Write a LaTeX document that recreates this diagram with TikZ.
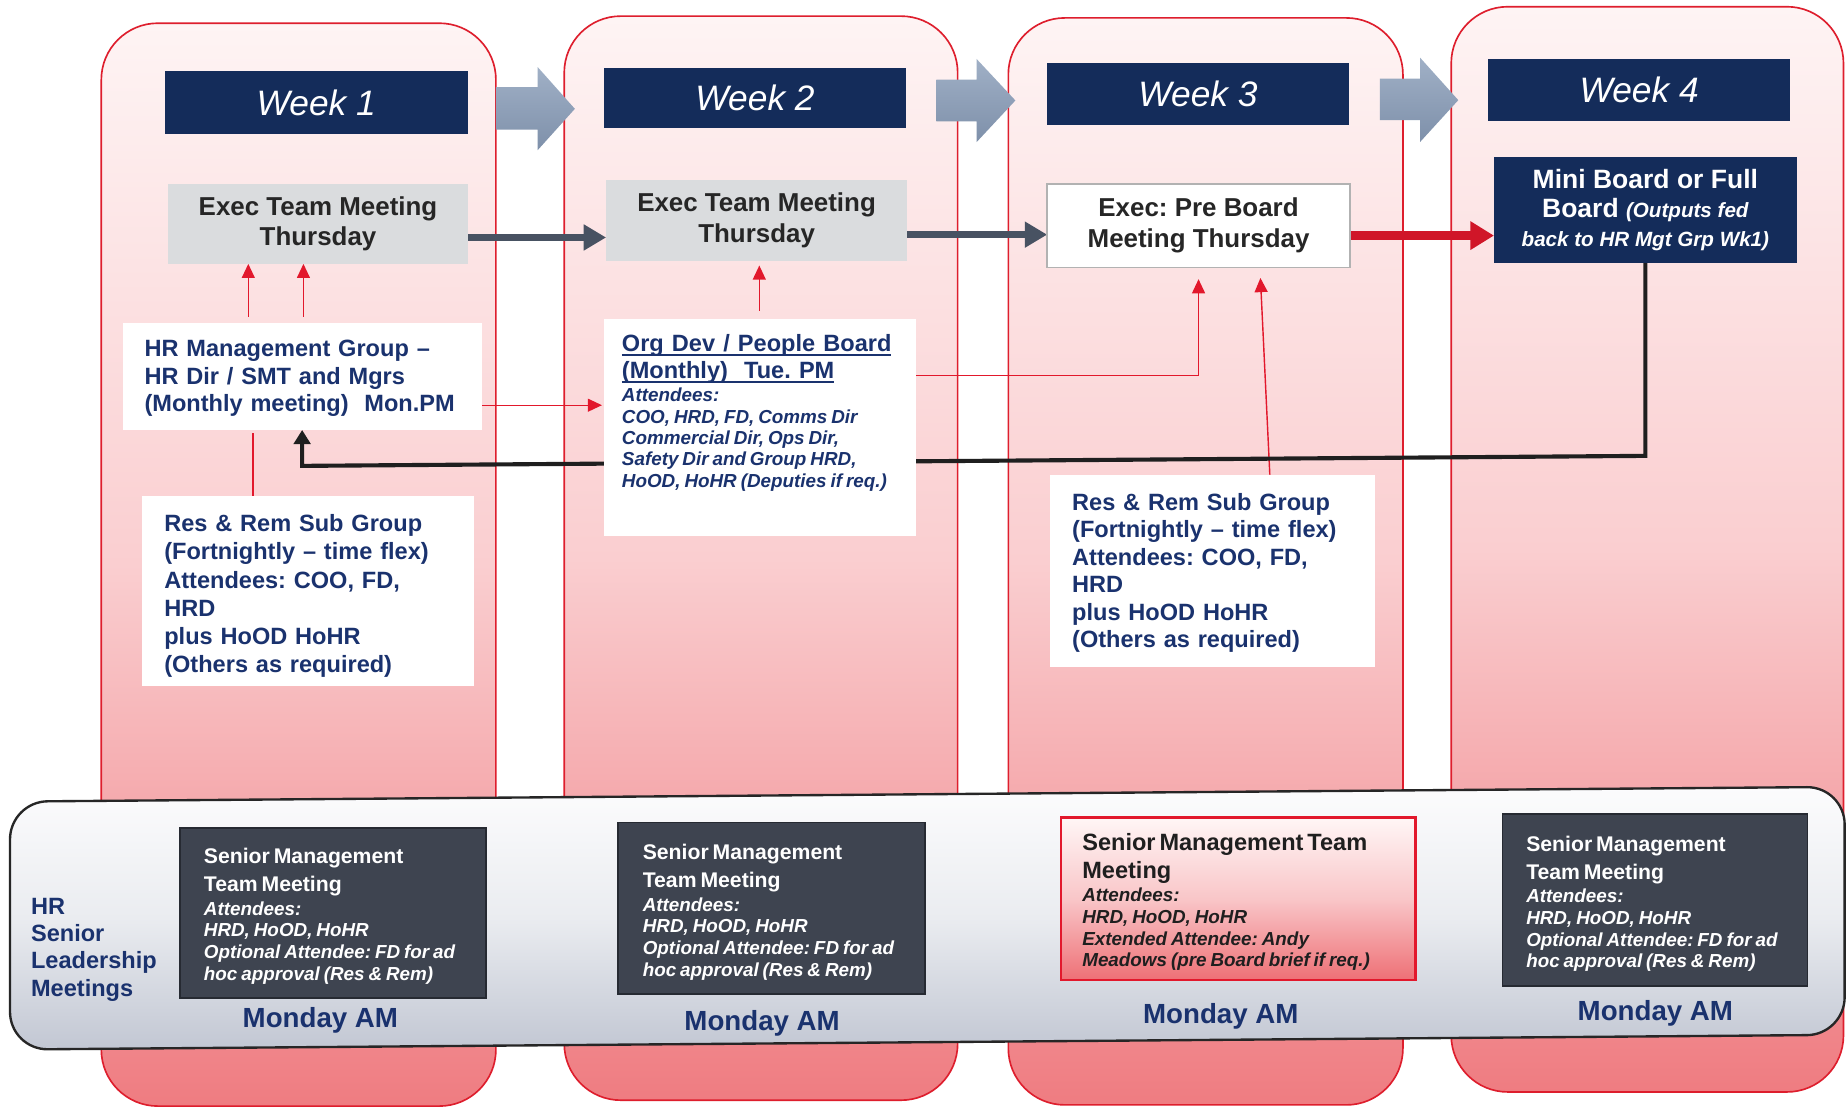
\documentclass[tikz,border=0pt]{standalone}
\usepackage{fontspec}
\setmainfont{Liberation Sans}
\usetikzlibrary{arrows.meta}
\definecolor{hdrblue}{RGB}{20,44,90}
\definecolor{txtblue}{RGB}{26,50,110}
\definecolor{arrtop}{RGB}{160,176,198}
\definecolor{arrbot}{RGB}{126,144,170}
\definecolor{darkconn}{RGB}{72,82,98}
\definecolor{redline}{RGB}{226,24,44}
\definecolor{boardred}{RGB}{208,22,40}
\definecolor{colborder}{RGB}{222,30,45}
\definecolor{coltop}{RGB}{254,244,244}
\definecolor{colmid}{RGB}{250,206,208}
\definecolor{colbot}{RGB}{239,124,129}
\definecolor{bandtop}{RGB}{252,252,253}
\definecolor{bandmid}{RGB}{234,236,240}
\definecolor{bandbot}{RGB}{194,199,211}
\definecolor{execgrey}{RGB}{218,220,222}
\definecolor{smtfill}{RGB}{62,68,80}
\definecolor{smtborder}{RGB}{38,42,50}
\definecolor{sthreetop}{RGB}{255,246,246}
\definecolor{sthreemid}{RGB}{249,198,200}
\definecolor{sthreebot}{RGB}{238,112,118}
\pgfdeclarelayer{bg}
\pgfdeclarelayer{lines}
\pgfsetlayers{bg,lines,main}
\newsavebox{\myulbox}
\newcommand{\myul}[1]{\leavevmode\sbox{\myulbox}{#1}\rlap{\rule[-3.8pt]{\wd\myulbox}{1.6pt}}\usebox{\myulbox}}
\frenchspacing
\begin{document}
\frenchspacing
\begin{tikzpicture}[x=1pt,y=-1pt,
  sz/.style 2 args={minimum width=#1pt, minimum height=#2pt, inner sep=0pt, outer sep=0pt},
  colshape/.style={draw=colborder, line width=1.4pt, top color=coltop, bottom color=colbot, middle color=colmid, rounded corners=48pt},
  bandshape/.style={draw=black!85, line width=2pt, top color=bandtop, bottom color=bandbot, middle color=bandmid, rounded corners=32pt},
  bigarrow/.style={top color=arrtop, bottom color=arrbot},
  hdr/.style={fill=hdrblue, text=white, font=\fontsize{30}{36}\selectfont\itshape},
  execbox/.style={fill=execgrey, text=black!85, align=center, font=\fontsize{22}{26}\selectfont\bfseries},
  boardbox/.style={fill=hdrblue, text=white, align=center, font=\fontsize{22.5}{24.5}\selectfont\bfseries},
  whitebox/.style={fill=white},
  smtbox/.style={fill=smtfill, draw=smtborder, line width=1.5pt},
  txt/.style={anchor=base west, inner sep=0pt, text width=330pt, align=left},
  bluetxt/.style={txt, text=txtblue},
  smttxt/.style={txt, text=white},
  redarr/.style={draw=redline, line width=1.2pt, -{Triangle[length=12pt,width=11pt]}},
  redln/.style={draw=redline, line width=1.2pt},
  darkarr/.style={draw=darkconn, line width=5.5pt, -{Triangle[length=19pt,width=21pt]}},
  boardarr/.style={draw=boardred, line width=7pt, -{Triangle[length=20pt,width=23pt]}},
  fbarr/.style={draw=black!88, line width=3.5pt, -{Triangle[length=12pt,width=14pt]}},
  monday/.style={anchor=base, inner sep=0pt, text=txtblue, font=\fontsize{23.5}{28}\selectfont\bfseries}
]
\useasboundingbox (0,0) rectangle (1568,940);
\begin{pgfonlayer}{bg}
  \fill[white] (0,0) rectangle (1568,940);
  \path[colshape] (86,19.7) rectangle (421,939);
  \path[colshape] (479,13.7) rectangle (813,934);
  \path[colshape] (856,15.2) rectangle (1191,938);
  \path[colshape] (1232,5.7) rectangle (1565,927);
  \path[bandshape] (8.5,680.5) -- (1566,668) -- (1566,878.5) -- (8.5,891) -- cycle;
\end{pgfonlayer}

% big grey arrows between the weeks
\path[bigarrow] (421,74) -- (456.5,74) -- (456.5,57) -- (488,92.4) -- (456.5,127.4) -- (456.5,110) -- (421,110) -- cycle;
\path[bigarrow] (795,67.5) -- (829,67.5) -- (829,50) -- (862,85.3) -- (829,120.7) -- (829,103) -- (795,103) -- cycle;
\path[bigarrow] (1171.5,66.7) -- (1205.6,66.7) -- (1205.6,49) -- (1238,85) -- (1205.6,120.5) -- (1205.6,102) -- (1171.5,102) -- cycle;

% week headers
\node[hdr, sz={257}{53}] (h1) at (268.5,87) {Week 1};
\node[hdr, sz={256}{51.5}] (h2) at (641,83.3) {Week 2};
\node[hdr, sz={256}{53}] (h3) at (1017,80) {Week 3};
\node[hdr, sz={256.5}{53}] (h4) at (1391.5,76.5) {Week 4};

% exec row
\node[execbox, sz={255}{68}] (e1) at (270,190) {Exec Team Meeting\\Thursday};
\node[execbox, sz={255.5}{68.4}] (e2) at (642.3,187.2) {Exec Team Meeting\\Thursday};
\node[execbox, fill=white, draw=black!30, line width=1.5pt, sz={257}{71}] (e3) at (1017.5,191.5) {Exec: Pre Board\\Meeting Thursday};
\node[boardbox, sz={257}{90}] (mb) at (1396.8,178.3) {Mini Board or Full\\Board {\fontsize{17.5}{24}\selectfont\itshape (Outputs fed}\\{\fontsize{17.5}{24}\selectfont\itshape back to HR Mgt Grp Wk1)}};

% white boxes
\node[whitebox, sz={305}{91}] (hr) at (256.5,319.5) {};
\node[whitebox, sz={265}{184}] (org) at (645.5,363) {};
\node[whitebox, sz={282}{161}] (r1) at (261.8,501.7) {};
\node[whitebox, sz={276}{163}] (r3) at (1029,484.5) {};

\node[bluetxt, font=\fontsize{20}{23}\selectfont\bfseries] (hrt) at (122.5,303) {HR Management Group –\\HR Dir / SMT and Mgrs\\(Monthly meeting)\ \ Mon.PM};
\node[bluetxt] (orgt) at (527.8,298.6) {{\fontsize{20}{22.8}\selectfont\bfseries\spaceskip=6.9pt plus 2pt minus 1pt\myul{Org Dev / People Board}\\\myul{(Monthly)\ \ Tue. PM}\par}\vspace{1.4pt}{\fontsize{16}{18.2}\selectfont\bfseries\itshape Attendees:\\COO, HRD, FD, Comms Dir\\Commercial Dir, Ops Dir,\\Safety Dir and Group HRD,\\HoOD, HoHR (Deputies if req.)\par}};
\node[bluetxt, font=\fontsize{20}{23.8}\selectfont\bfseries] (r1t) at (139.3,451.6) {Res \& Rem Sub Group\\(Fortnightly – time flex)\\Attendees: COO, FD,\\HRD\\plus HoOD HoHR\\(Others as required)};
\node[bluetxt, font=\fontsize{20}{23.4}\selectfont\bfseries] (r3t) at (910,433) {Res \& Rem Sub Group\\(Fortnightly – time flex)\\Attendees: COO, FD,\\HRD\\plus HoOD HoHR\\(Others as required)};

% bottom band
\node[bluetxt, font=\fontsize{20}{23.3}\selectfont\bfseries] (lbl) at (26.2,776) {HR\\Senior\\Leadership\\Meetings};

\node[smtbox, sz={260}{144}] (s1) at (282.7,775) {};
\node[smtbox, sz={260.6}{145.4}] (s2) at (655,771) {};
\node[draw=redline, line width=1.8pt, top color=sthreetop, bottom color=sthreebot, middle color=sthreemid, sz={301}{138}] (s3) at (1051.2,763) {};
\node[smtbox, sz={259}{145.7}] (s4) at (1405,764) {};

\node[smttxt] (s1t) at (172.9,733.4) {{\fontsize{18}{23.6}\selectfont\bfseries Senior Management\\Team Meeting\par}\vspace{1.4pt}{\fontsize{16}{18.4}\selectfont\bfseries\itshape Attendees:\\HRD, HoOD, HoHR\\Optional Attendee: FD for ad\\hoc approval (Res \& Rem)\par}};
\node[smttxt] (s2t) at (545.5,730) {{\fontsize{18}{23.6}\selectfont\bfseries Senior Management\\Team Meeting\par}\vspace{1.4pt}{\fontsize{16}{18.4}\selectfont\bfseries\itshape Attendees:\\HRD, HoOD, HoHR\\Optional Attendee: FD for ad\\hoc approval (Res \& Rem)\par}};
\node[txt, text=black!88] (s3t) at (918.6,721.6) {{\fontsize{20}{24}\selectfont\bfseries Senior Management Team\\Meeting\par}\vspace{1.7pt}{\fontsize{16}{18.4}\selectfont\bfseries\itshape Attendees:\\HRD, HoOD, HoHR\\Extended Attendee: Andy\\Meadows (pre Board brief if req.)\par}};
\node[smttxt] (s4t) at (1295.5,723) {{\fontsize{18}{23.6}\selectfont\bfseries Senior Management\\Team Meeting\par}\vspace{1.4pt}{\fontsize{16}{18.4}\selectfont\bfseries\itshape Attendees:\\HRD, HoOD, HoHR\\Optional Attendee: FD for ad\\hoc approval (Res \& Rem)\par}};

\node[monday] (m1) at (272,872.7) {Monday AM};
\node[monday] (m2) at (647,874.4) {Monday AM};
\node[monday] (m3) at (1036.4,868.5) {Monday AM};
\node[monday] (m4) at (1405.3,866) {Monday AM};

% connectors
\begin{pgfonlayer}{lines}
  \draw[darkarr] ([yshift=-11.6pt]e1.east) -- ([yshift=-11.6pt]e1.east -| e2.west);
  \draw[darkarr] ([yshift=-12pt]e2.east) -- ([yshift=-12pt]e2.east -| e3.west);
  \draw[boardarr] ([yshift=-8.5pt]e3.east) -- ([yshift=-8.5pt]e3.east -| mb.west);
  \draw[redarr, shorten <=5pt] (210.8,0 |- hr.north) -- (210.8,0 |- e1.south);
  \draw[redarr, shorten <=5pt] (257.6,0 |- hr.north) -- (257.6,0 |- e1.south);
  \draw[redarr, shorten >=2pt] ([yshift=-24.5pt]hr.east) -- ([yshift=-24.5pt]hr.east -| org.west);
  \draw[redln, shorten >=3pt] (214.8,0 |- r1.north) -- (214.8,0 |- hr.south);
  \draw[redarr, shorten <=7pt, shorten >=4pt] (644.6,0 |- org.north) -- (644.6,0 |- e2.south);
  \draw[redarr, shorten >=10pt] ([yshift=44pt]org.east) -| (e3.south);
  \draw[redarr, shorten >=9pt] (1078,0 |- r3.north) -- (1069.6,0 |- e3.south);
  \coordinate (fbR) at (mb.south |- 0,387);
  \coordinate (fbL) at (hr.south |- 0,395.5);
  \draw[fbarr] (mb.south) -- (fbR) -- (fbL) -- (hr.south);
\end{pgfonlayer}
\end{tikzpicture}
\end{document}
